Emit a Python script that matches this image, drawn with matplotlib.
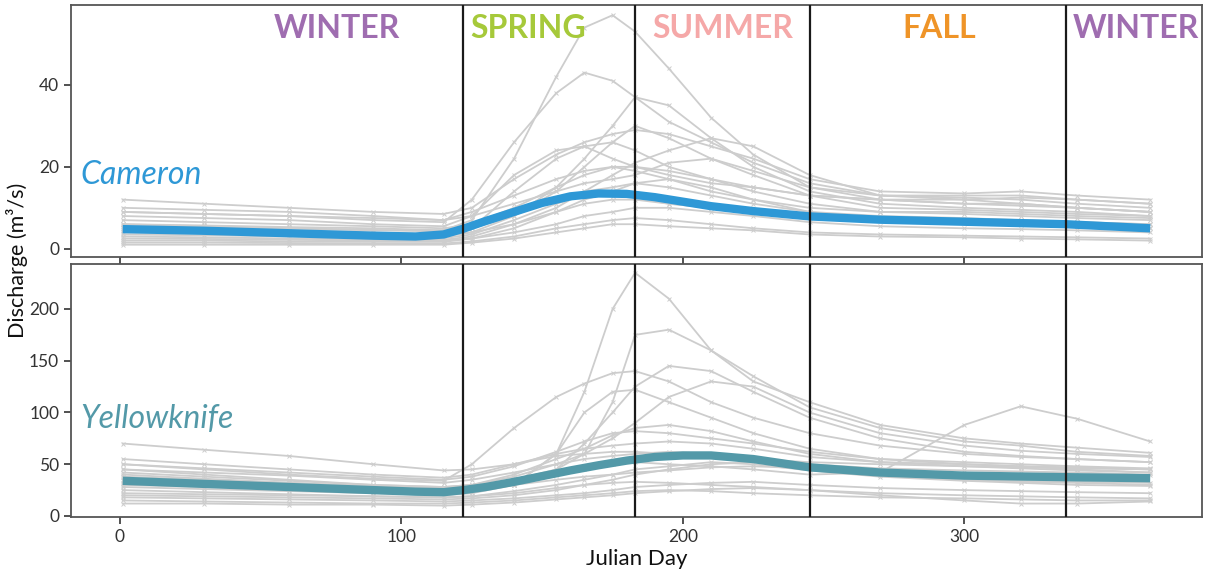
import numpy as np
import matplotlib
matplotlib.use("Agg")
import matplotlib.pyplot as plt

plt.rcParams['font.family'] = ['Lato', 'DejaVu Sans']

days = [1, 30, 60, 90, 115, 125, 140, 155, 165, 175, 183, 195, 210, 225, 245, 270, 300, 320, 340, 366]

# Cameron - individual years (m3/s)
cameron_years = [
    [6, 5.5, 5, 4.5, 4.5, 7, 22, 42, 54, 57, 53, 44, 32, 23, 15, 12, 11, 10.5, 10, 9],
    [9, 8.5, 8, 7, 6.5, 12, 26, 38, 43, 41, 37, 31, 26, 21, 16, 13, 12.5, 12, 11, 10],
    [4, 3.8, 3.5, 3, 3, 4, 8, 15, 22, 30, 37, 35, 27, 20, 14, 11, 10, 9.5, 9, 8],
    [12, 11, 10, 9, 8.5, 10, 17, 23, 26, 28, 29, 28, 25, 22, 17, 14, 13.5, 14, 13, 12],
    [3, 2.8, 2.5, 2.3, 2.2, 3, 6, 10, 14, 18, 21, 24, 27, 25, 18, 13, 12, 11, 10, 9],
    [8, 7.5, 7, 6, 5.5, 8, 18, 24, 25, 22, 20, 18, 16, 15, 13, 12, 11, 11, 10, 9],
    [5, 4.8, 4.5, 4, 3.5, 5, 14, 22, 25, 26, 24, 20, 17, 14, 11, 9, 8.5, 8, 7.5, 7],
    [2, 2, 1.8, 1.7, 1.7, 2.5, 5, 9, 12, 14, 16, 17, 15, 12, 9, 7, 6.5, 6, 5.5, 5],
    [7, 6.5, 6, 5.5, 5, 6, 10, 15, 18, 20, 19, 17, 14, 12, 10, 9, 9, 8.5, 8, 7.5],
    [1.5, 1.5, 1.4, 1.3, 1.3, 1.8, 3, 5, 6, 7, 7.5, 7, 6, 5, 4, 3.5, 3.2, 3, 2.8, 2.5],
    [10, 9.5, 9, 8, 7, 9, 13, 17, 19, 20, 20, 19, 17, 15, 13, 12, 12, 12.5, 12, 11],
    [3.5, 3.3, 3, 2.8, 2.6, 3.5, 7, 11, 13, 13, 12.5, 11, 10, 9, 8, 7, 6.5, 6, 5.5, 5],
    [6, 5.7, 5.3, 5, 4.5, 5.5, 9, 12, 14, 15, 16, 15, 13, 11, 9, 8, 7.5, 7, 6.5, 6],
    [2.5, 2.4, 2.2, 2, 2, 2.5, 4, 6, 8, 9, 10, 10, 9, 8, 6.5, 5.5, 5, 4.8, 4.5, 4],
    [4.5, 4.3, 4, 3.7, 3.5, 4, 6, 9, 11, 12, 12, 11, 10, 9, 8, 7.5, 7, 7, 6.5, 6],
    [9, 8.5, 8, 7.5, 7, 8, 11, 14, 16, 17, 18, 21, 22, 19, 15, 13, 13, 13, 12, 11],
    [1, 1, 1, 1, 1, 1.5, 2.5, 4, 5, 6, 6, 5.5, 5, 4.5, 3.5, 3, 2.8, 2.5, 2.3, 2],
    [5.5, 5.2, 5, 4.6, 4.2, 5, 8, 14, 20, 26, 30, 27, 22, 18, 13, 10, 9.5, 9, 8.5, 8],
]

# smoothed mean curves, read at their own days
mean_days = [1, 30, 60, 90, 105, 115, 122, 130, 140, 150, 160, 170, 180, 190, 200, 210, 225, 245, 270, 300, 336, 366]
cameron_mean = [4.8, 4.4, 3.8, 3.2, 3.0, 3.5, 4.9, 6.8, 9.0, 11.2, 12.8, 13.5, 13.4, 12.6, 11.5, 10.4, 9.2, 7.9, 7.1, 6.6, 6.0, 5.0]
yk_mean = [34, 31, 28, 25, 23.5, 23, 25, 28, 33, 38.5, 44, 49, 53.5, 57, 58.5, 58.5, 55, 47, 42, 39, 37.5, 36.5]

# Yellowknife - individual years (m3/s)
yk_years = [
    [40, 36, 32, 28, 25, 26, 30, 60, 120, 200, 235, 210, 160, 130, 110, 88, 75, 70, 66, 61],
    [45, 40, 35, 30, 28, 30, 35, 45, 60, 110, 175, 180, 160, 135, 105, 85, 72, 68, 62, 58],
    [50, 45, 40, 36, 34, 50, 85, 115, 128, 138, 140, 130, 110, 95, 80, 68, 60, 57, 55, 52],
    [30, 28, 26, 24, 22, 24, 30, 45, 70, 100, 125, 145, 140, 120, 95, 75, 62, 58, 55, 52],
    [35, 32, 29, 26, 24, 26, 32, 40, 45, 50, 52, 50, 48, 45, 40, 42, 88, 106, 94, 72],
    [42, 38, 34, 30, 28, 30, 38, 50, 60, 75, 90, 115, 130, 125, 100, 80, 68, 63, 60, 57],
    [28, 26, 24, 22, 20, 22, 30, 60, 100, 120, 122, 110, 95, 80, 65, 55, 50, 48, 45, 42],
    [38, 35, 32, 29, 27, 30, 40, 55, 65, 78, 85, 88, 82, 72, 60, 52, 48, 46, 44, 42],
    [55, 50, 45, 40, 37, 40, 50, 60, 65, 68, 70, 72, 70, 65, 57, 52, 50, 48, 47, 45],
    [20, 19, 18, 17, 16, 17, 20, 25, 30, 35, 40, 45, 50, 52, 48, 40, 35, 33, 32, 30],
    [70, 64, 58, 50, 44, 45, 50, 58, 60, 62, 62, 60, 58, 55, 52, 50, 48, 47, 46, 45],
    [15, 14, 13, 12, 12, 13, 15, 18, 20, 22, 24, 25, 24, 22, 20, 18, 17, 16, 15, 15],
    [25, 23, 21, 19, 18, 19, 24, 30, 35, 40, 45, 48, 52, 50, 44, 38, 34, 32, 30, 29],
    [45, 42, 39, 35, 32, 35, 42, 50, 55, 58, 60, 62, 60, 56, 50, 46, 44, 43, 42, 40],
    [12, 12, 11, 11, 10, 11, 13, 16, 18, 20, 22, 24, 26, 27, 25, 22, 20, 19, 18, 17],
    [32, 30, 28, 26, 24, 26, 30, 35, 38, 40, 42, 44, 47, 48, 46, 40, 36, 34, 33, 32],
    [18, 17, 16, 15, 14, 15, 17, 20, 22, 25, 28, 30, 32, 33, 30, 27, 25, 24, 23, 22],
    [50, 46, 42, 38, 35, 38, 48, 62, 72, 80, 82, 80, 75, 70, 62, 55, 52, 50, 48, 46],
    [22, 21, 20, 19, 18, 19, 22, 27, 30, 32, 33, 32, 30, 28, 25, 20, 15, 12, 12, 14],
]

season_breaks = [122, 183, 245, 336]
season_names = ['WINTER', 'SPRING', 'SUMMER', 'FALL', 'WINTER']
season_x = [77, 145, 214, 291, 361]
season_colors = ['#9f6db0', '#a6c93a', '#f5a8a8', '#ef9428', '#9f6db0']

fig = plt.figure(figsize=(12.09, 5.73), dpi=100)
ax1 = fig.add_axes([0.0587, 0.5515, 0.9355, 0.4398])
ax2 = fig.add_axes([0.0587, 0.0977, 0.9355, 0.4416])

panels = [
    (ax1, cameron_years, cameron_mean, '#2e98d6', 'Cameron', 18, (-2, 59.5), [0, 20, 40]),
    (ax2, yk_years, yk_mean, '#5399a8', 'Yellowknife', 94, (-1, 243.5), [0, 50, 100, 150, 200]),
]

for ax, years, mean, col, name, label_y, ylim, yticks in panels:
    for yr in years:
        ax.plot(days, yr, color='#cdcdcd', lw=1.3, marker='x', ms=2.5, mew=0.7, zorder=1)
    ax.plot(mean_days, mean, color=col, lw=6, solid_capstyle='butt', zorder=3)
    for b in season_breaks:
        ax.axvline(b, color='#1a1a1a', lw=1.6, zorder=4)
    ax.text(-14, label_y, name, color=col, fontsize=23, style='italic',
            ha='left', va='center')
    ax.set_xlim(-17.4, 384.4)
    ax.set_ylim(*ylim)
    ax.set_yticks(yticks)
    ax.set_xticks([0, 100, 200, 300])
    for s in ax.spines.values():
        s.set_color('#555555')
        s.set_linewidth(1.3)
    ax.tick_params(colors='#333333', labelsize=12.5, length=5, width=1.2, direction='out')

ax1.tick_params(axis='x', labelbottom=False)

for name, x, c in zip(season_names, season_x, season_colors):
    ax1.text(x, 53.8, name, color=c, fontsize=23, fontweight='bold', ha='center', va='center')

ax2.set_xlabel('Julian Day', fontsize=16, color='#111111', labelpad=3)
fig.text(0.014, 0.545, 'Discharge (m³/s)', rotation=90, fontsize=15.5,
         color='#111111', ha='center', va='center')

fig.savefig('out.png', dpi=100)
